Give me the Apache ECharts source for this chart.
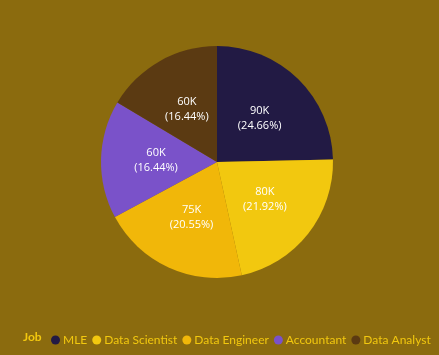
<!DOCTYPE html>
<html><head><meta charset="utf-8">
<script src="https://cdn.jsdelivr.net/npm/echarts@6/dist/echarts.min.js"></script>
<style>html,body{margin:0;padding:0;background:#8B6B0E;}#c{width:439px;height:355px;}</style>
</head><body><div id="c"></div>
<script>
const categories = ['MLE','Data Scientist','Data Engineer','Accountant','Data Analyst'];
const values = [90, 80, 75, 60, 60];
const colors = ['#221A44','#F2C80F','#F1B709','#7A52C9','#5B3A12'];
const legendTitle = 'Job';
const total = values.reduce((a, b) => a + b, 0);

const chart = echarts.init(document.getElementById('c'));
chart.setOption({
  backgroundColor: '#8B6B0E',
  animation: false,
  color: colors,
  graphic: [{
    type: 'text', left: 23, top: 331,
    style: { text: legendTitle, fill: '#F2C80F', font: 'bold 12px Lato, sans-serif' }
  }],
  legend: {
    left: 46, top: 329, width: 400, icon: 'circle', itemWidth: 9, itemHeight: 9, itemGap: 5,
    textStyle: { color: '#F2C80F', fontSize: 12, fontFamily: 'Lato, sans-serif', padding: [0,0,0,-2] },
    data: categories
  },
  series: [{
    type: 'pie', center: [217, 162], radius: [0, 116], startAngle: 90, clockwise: true,
    label: { position: 'inside', color: '#fff', fontSize: 11, fontFamily: '"Open Sans", sans-serif', lineHeight: 15,
      formatter: p => p.value + 'K\n(' + (p.value / total * 100).toFixed(2) + '%)' },
    labelLine: { show: false },
    itemStyle: { borderWidth: 0 },
    emphasis: { disabled: true },
    data: categories.map((n, i) => ({ name: n, value: values[i] }))
  }]
});
</script></body></html>
